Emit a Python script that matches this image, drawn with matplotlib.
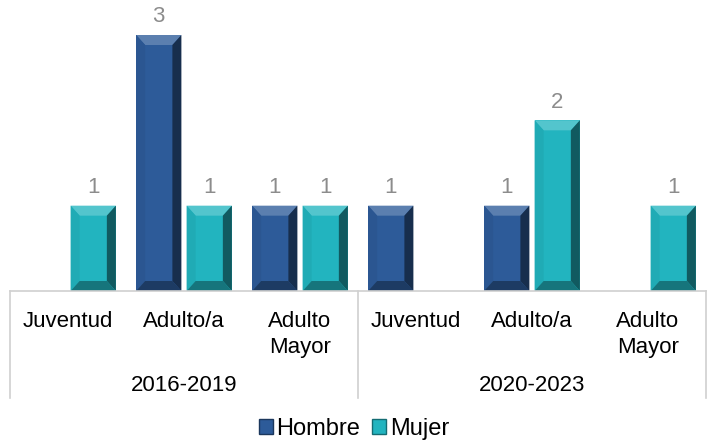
import numpy as np
import matplotlib.pyplot as plt
from matplotlib.patches import Polygon, Patch
import matplotlib.colors as mcolors

plt.rcParams['font.family'] = ['Liberation Sans', 'DejaVu Sans']

periods = ['2016-2019', '2020-2023']
groups = ['Juventud', 'Adulto/a', 'Adulto\nMayor']
hombre = [0, 3, 1, 1, 1, 0]
mujer = [1, 1, 1, 0, 2, 1]
series = ['Hombre', 'Mujer']
colors = ['#2D5B99', '#22B4BF']


def shade(c, f):
    r, g, b = mcolors.to_rgb(c)
    if f >= 0:
        return (r + (1 - r) * f, g + (1 - g) * f, b + (1 - b) * f)
    return (r * (1 + f), g * (1 + f), b * (1 + f))


fig = plt.figure(figsize=(7.08, 4.42), dpi=100)
W, H = 708, 442
ax = fig.add_axes([10 / W, (H - 291) / H, 696 / W, (291 - 35) / H])

n = len(hombre)
x = np.arange(n)
bw = 0.39
gap = 0.045
ax.set_xlim(-0.5, n - 0.5)
ax.set_ylim(0, 3)


def bevel_bar(xc, h, color):
    if h <= 0:
        return
    x0, x1 = xc - bw / 2, xc + bw / 2
    ax.add_patch(plt.Rectangle((x0, 0), bw, h, facecolor=color, edgecolor='none'))
    # bevel size in data units from pixel size
    p0 = ax.transData.transform((x0, 0))
    dx = ax.transData.inverted().transform((p0[0] + 9, p0[1]))[0] - x0
    dy = ax.transData.inverted().transform((p0[0], p0[1] + 10))[1]
    top = [(x0, h), (x1, h), (x1 - dx, h - dy), (x0 + dx, h - dy)]
    bot = [(x0, 0), (x1, 0), (x1 - dx, dy), (x0 + dx, dy)]
    left = [(x0, 0), (x0, h), (x0 + dx, h - dy), (x0 + dx, dy)]
    right = [(x1, 0), (x1, h), (x1 - dx, h - dy), (x1 - dx, dy)]
    ax.add_patch(Polygon(top, closed=True, facecolor=shade(color, 0.22), edgecolor='none'))
    ax.add_patch(Polygon(left, closed=True, facecolor=shade(color, -0.05), edgecolor='none'))
    ax.add_patch(Polygon(right, closed=True, facecolor=shade(color, -0.5), edgecolor='none'))
    ax.add_patch(Polygon(bot, closed=True, facecolor=shade(color, -0.35), edgecolor='none'))
    ax.text(xc, h + 0.09, str(h), ha='center', va='bottom', fontsize=16,
            color='#8C8C8C', clip_on=False)


for i in range(n):
    bevel_bar(x[i] - bw / 2 - gap / 2, hombre[i], colors[0])
    bevel_bar(x[i] + bw / 2 + gap / 2, mujer[i], colors[1])

for s in ax.spines.values():
    s.set_visible(False)
ax.set_yticks([])
ax.set_xticks([])
ax.axhline(0, color='#D0D0D0', lw=1.2, clip_on=False)

# two-level category axis
labels = groups * len(periods)
for i, lab in enumerate(labels):
    ax.annotate(lab, (x[i], 0), xytext=(0, -14.5), textcoords='offset points',
                ha='center', va='top', fontsize=16, linespacing=1.3)
for j, p in enumerate(periods):
    xc = j * 3 + 1
    ax.annotate(p, (xc, 0), xytext=(0, -68), textcoords='offset points',
                ha='center', va='center', fontsize=16)
for xb in [-0.5, 2.5, n - 0.5]:
    ax.add_line(plt.Line2D([xb, xb], [0, -107 / 85.3], color='#D0D0D0', lw=1.2,
                           clip_on=False))

handles = [Patch(facecolor=c, edgecolor=shade(c, -0.4), label=s) for s, c in zip(series, colors)]
fig.legend(handles=handles, loc='center', ncol=2, frameon=False, fontsize=17,
           bbox_to_anchor=(0.5, 13 / H), handlelength=0.6, handleheight=0.6,
           handletextpad=0.15, columnspacing=0.5)

fig.savefig('out.png', dpi=100)
